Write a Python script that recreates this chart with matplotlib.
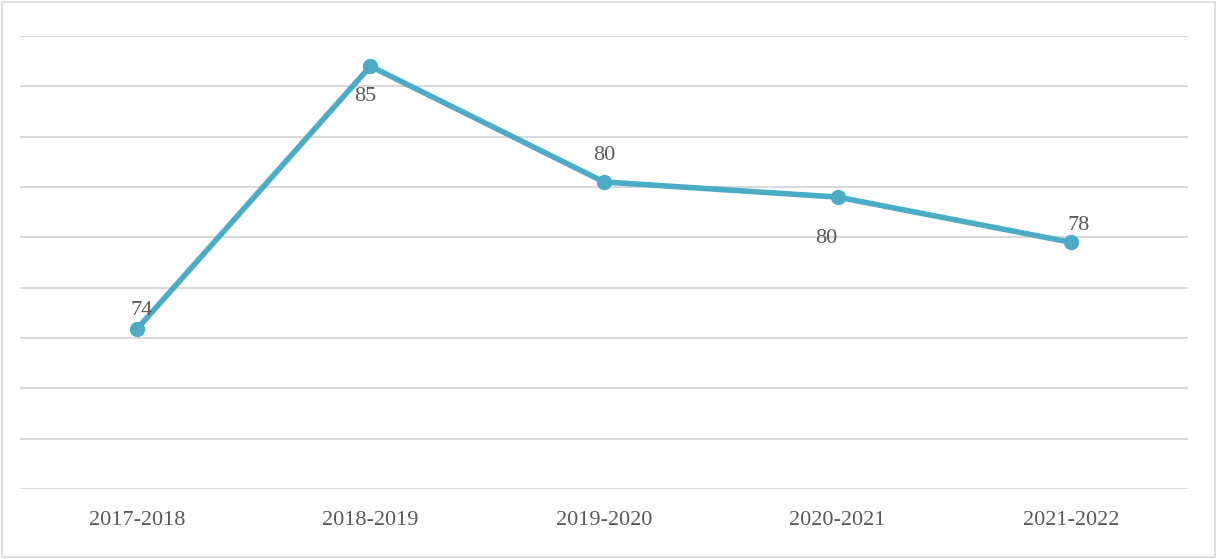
import matplotlib.pyplot as plt
from matplotlib.patches import Rectangle

# data (gridlines every 2 units, 68..86)
years = ['2017-2018', '2018-2019', '2019-2020', '2020-2021', '2021-2022']
values = [74.35, 84.8, 80.2, 79.6, 77.8]
labels = ['74', '85', '80', '80', '78']

# label offsets (points) from each marker, as placed in the original
label_offsets = [(3.6, 13.5), (-3.6, -21.5), (0, 19), (-8, -29.5), (5, 12)]

line_color = '#4BACC6'
text_color = '#595959'
grid_color = '#D9D9D9'

plt.rcParams['font.family'] = ['Liberation Serif', 'DejaVu Serif']

fig = plt.figure(figsize=(12.17, 5.59), dpi=100)
ax = fig.add_axes([20 / 1217, 1 - 489 / 559, 1168 / 1217, 453 / 559])

x = list(range(len(years)))
ax.plot(x, values, color=line_color, linewidth=4.0, marker='o', markersize=10,
        solid_capstyle='round', zorder=3)

for xi, v, lab, off in zip(x, values, labels, label_offsets):
    ax.annotate(lab, (xi, v), xytext=off, textcoords='offset points',
                ha='center', va='center', fontsize=16, color=text_color)

ax.set_xlim(-0.5, 4.5)
ax.set_ylim(68, 86)
ax.set_yticks(range(68, 87, 2))
ax.set_yticklabels([])
ax.set_xticks(x)
ax.set_xticklabels(years, fontsize=16, color=text_color)
ax.tick_params(axis='both', length=0)
ax.tick_params(axis='x', pad=15.5)
ax.grid(True, axis='y', color=grid_color, linewidth=1.5)
ax.set_axisbelow(True)
for s in ax.spines.values():
    s.set_visible(False)

# thin border around the chart area
fig.patches.append(Rectangle((0.002, 0.003), 0.996, 0.994, transform=fig.transFigure,
                             fill=False, edgecolor=grid_color, linewidth=1.2))

fig.savefig('out.png', dpi=100)
